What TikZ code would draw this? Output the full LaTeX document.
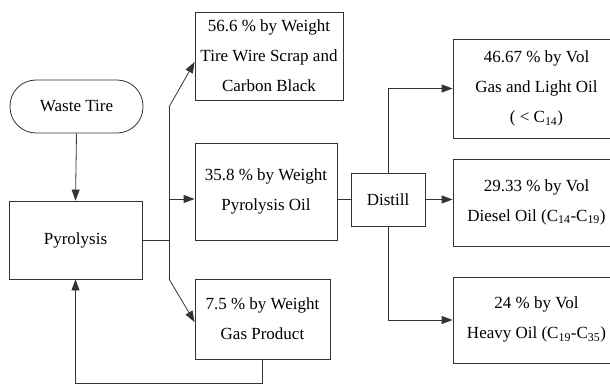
\documentclass[tikz,border=0pt]{standalone}
\usepackage{fontspec}
\setmainfont{Liberation Serif}
\newfontfamily\boxfont{Liberation Serif}
\usetikzlibrary{arrows.meta}
\begin{document}
\begin{tikzpicture}[x=1pt, y=-1pt, line width=0.8pt, draw=black!80,
  box/.style={draw=black!80, rectangle, align=center, inner sep=0pt,
    font=\boxfont\fontsize{17}{30}\selectfont},
  flow/.style={-{Triangle[length=11pt,width=8pt]}}]
\useasboundingbox (0,0) rectangle (610,385);
% process chain
\node[box, rounded corners=26pt, minimum width=133pt, minimum height=53pt] (tire) at (76.5,106.5) {Waste Tire};
\node[box, minimum width=133pt, minimum height=78pt] (pyro) at (75.5,240) {Pyrolysis};
\draw[flow] (tire.south) -- (pyro.north);
% pyrolysis products
\node[box, minimum width=148pt, minimum height=88pt] (carbon) at (269,56) {56.6 \% by Weight\\Tire Wire Scrap and\\Carbon Black};
\node[box, minimum width=142pt, minimum height=97pt] (oil) at (266,191.5) {35.8 \% by Weight\\Pyrolysis Oil};
\node[box, minimum width=135pt, minimum height=80pt] (gas) at (262.5,319) {7.5 \% by Weight\\Gas Product};
\coordinate (J_top) at (169,107);
\coordinate (J_mid) at (169,199);
\coordinate (J_bot) at (169,279);
\draw (pyro.east) -- (pyro.east -| J_mid);
\draw (J_top) -- (J_bot);
\draw[flow] (J_top) -- ([yshift=-6pt]carbon.west);
\draw[flow] (J_mid) -- (J_mid -| oil.west);
\draw[flow] (J_bot) -- ([yshift=-3pt]gas.west);
% recycle of gas
\draw[flow] (gas.south) -- ++(0,24) -| (pyro.south);
% distillation
\node[box, minimum width=74pt, minimum height=53pt] (dist) at (388,199.5) {Distill};
\draw (dist.west -| oil.east) -- (dist.west);
\node[box, minimum width=167pt, minimum height=99pt] (light) at (536.5,88.5) {46.67 \% by Vol\\Gas and Light Oil\\( < C\textsubscript{14})};
\node[box, minimum width=167pt, minimum height=87pt, text depth=4pt] (diesel) at (536.5,202.5) {29.33 \% by Vol\\Diesel Oil (C\textsubscript{14}-C\textsubscript{19})};
\node[box, minimum width=167pt, minimum height=86pt, text depth=4pt] (heavy) at (536.5,320) {24 \% by Vol\\Heavy Oil (C\textsubscript{19}-C\textsubscript{35})};
\draw[flow] (dist.north) |- (light.west);
\draw[flow] (dist.east) -- (dist.east -| diesel.west);
\draw[flow] (dist.south) |- (heavy.west);
\end{tikzpicture}
\end{document}
